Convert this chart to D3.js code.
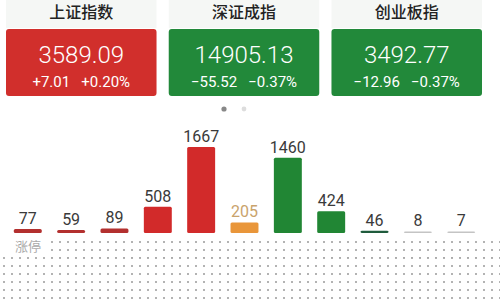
<!DOCTYPE html>
<html><head><meta charset="utf-8">
<script src="https://cdn.jsdelivr.net/npm/d3@7"></script>
<style>body{margin:0;background:#fff}svg{display:block}</style>
</head><body>
<script>
const cardTitles = ["上证指数", "深证成指", "创业板指"];
const cardValues = ["3589.09", "14905.13", "3492.77"];
const cardChanges = ["+7.01", "-55.52", "-12.96"];
const cardPercents = ["+0.20%", "-0.37%", "-0.37%"];
const cardColors = ["#d12f2c", "#22893a", "#22893a"];

const barCategories = ["c1","c2","c3","c4","c5","c6","c7","c8","c9","c10","c11"];
const barValues = [77, 59, 89, 508, 1667, 205, 1460, 424, 46, 8, 7];
const barColors = ["#b3302f","#b3302f","#b3302f","#d22a2a","#d22a2a","#e9963a","#218634","#218634","#1f5b3c","#c4c4c4","#c4c4c4"];
const labelColors = ["#3a3a3a","#3a3a3a","#3a3a3a","#3a3a3a","#3a3a3a","#c9a36c","#3a3a3a","#3a3a3a","#3a3a3a","#3a3a3a","#3a3a3a"];
const axisLabel = "涨停";

const W = 500, H = 300;
const svg = d3.select("body").append("svg").attr("width", W).attr("height", H);
const font = "'Noto Sans CJK SC','Noto Sans',sans-serif";
const numFont = "Roboto,'Noto Sans',sans-serif";

// dotted pattern background
const defs = svg.append("defs");
const pat = defs.append("pattern").attr("id","dots").attr("patternUnits","userSpaceOnUse")
  .attr("width",8).attr("height",8).attr("x",2).attr("y",0);
pat.append("path").attr("d","M1,1 L3,3 M3,1 L1,3").attr("stroke","#aaa").attr("stroke-width",0.9);
svg.append("rect").attr("x",46).attr("y",238).attr("width",W-46).attr("height",20).attr("fill","url(#dots)");
svg.append("rect").attr("x",0).attr("y",254).attr("width",W).attr("height",H-254).attr("fill","url(#dots)");

// cards
const cx = d3.scaleBand().domain(d3.range(3)).range([6, 482]).paddingInner(0.075);
const cards = svg.selectAll("g.card").data(cardTitles).join("g").attr("class","card")
  .attr("transform", (d,i) => `translate(${cx(i)},0)`);
cards.append("rect").attr("x",0).attr("y",0).attr("width",cx.bandwidth()).attr("height",28).attr("fill","#f5f7f5");
cards.append("text").attr("x",cx.bandwidth()/2).attr("y",18).attr("text-anchor","middle")
  .attr("font-family",font).attr("font-size",16).attr("font-weight",500).attr("fill","#222").text(d=>d);
cards.append("rect").attr("x",0).attr("y",29).attr("width",cx.bandwidth()).attr("height",67).attr("rx",3)
  .attr("fill",(d,i)=>cardColors[i]);
cards.append("text").attr("x",cx.bandwidth()/2).attr("y",63).attr("text-anchor","middle")
  .attr("font-family",numFont).attr("font-size",24).attr("font-weight",300).attr("fill","#fff").text((d,i)=>cardValues[i]);
cards.append("text").attr("x",cx.bandwidth()/2).attr("y",87).attr("text-anchor","middle")
  .attr("font-family",numFont).attr("font-size",15).attr("fill","#fff")
  .attr("xml:space","preserve").style("white-space","pre")
  .text((d,i)=>cardChanges[i].replace("-","−") + "   " + cardPercents[i].replace("-","−"));

// page dots
svg.append("circle").attr("cx",224).attr("cy",109).attr("r",2.6).attr("fill","#888");
svg.append("circle").attr("cx",244).attr("cy",109).attr("r",2.4).attr("fill","#ddd");

// bars
const x = d3.scaleBand().domain(barCategories).range([6, 483]).paddingInner(0.355).paddingOuter(0.18);
const base = 233;
const y = d3.scaleLinear().domain([0, 1667]).range([base, 147]);
const bars = svg.selectAll("g.bar").data(barValues).join("g").attr("class","bar");
bars.append("rect")
  .attr("x",(d,i)=>x(barCategories[i]))
  .attr("width",x.bandwidth())
  .attr("y",d=>Math.min(y(d), base-1.5))
  .attr("height",d=>Math.max(base-y(d),1.5))
  .attr("rx",1.5)
  .attr("fill",(d,i)=>barColors[i]);
bars.append("text")
  .attr("x",(d,i)=>x(barCategories[i])+x.bandwidth()/2)
  .attr("y",d=>Math.min(y(d), base-2)-5)
  .attr("text-anchor","middle")
  .attr("font-family",numFont).attr("font-size",16)
  .attr("fill",(d,i)=>labelColors[i])
  .text(d=>d);

svg.append("text").attr("x",15).attr("y",251).attr("font-family",font).attr("font-size",13)
  .attr("fill","#aaa").text(axisLabel);
</script>
</body></html>
